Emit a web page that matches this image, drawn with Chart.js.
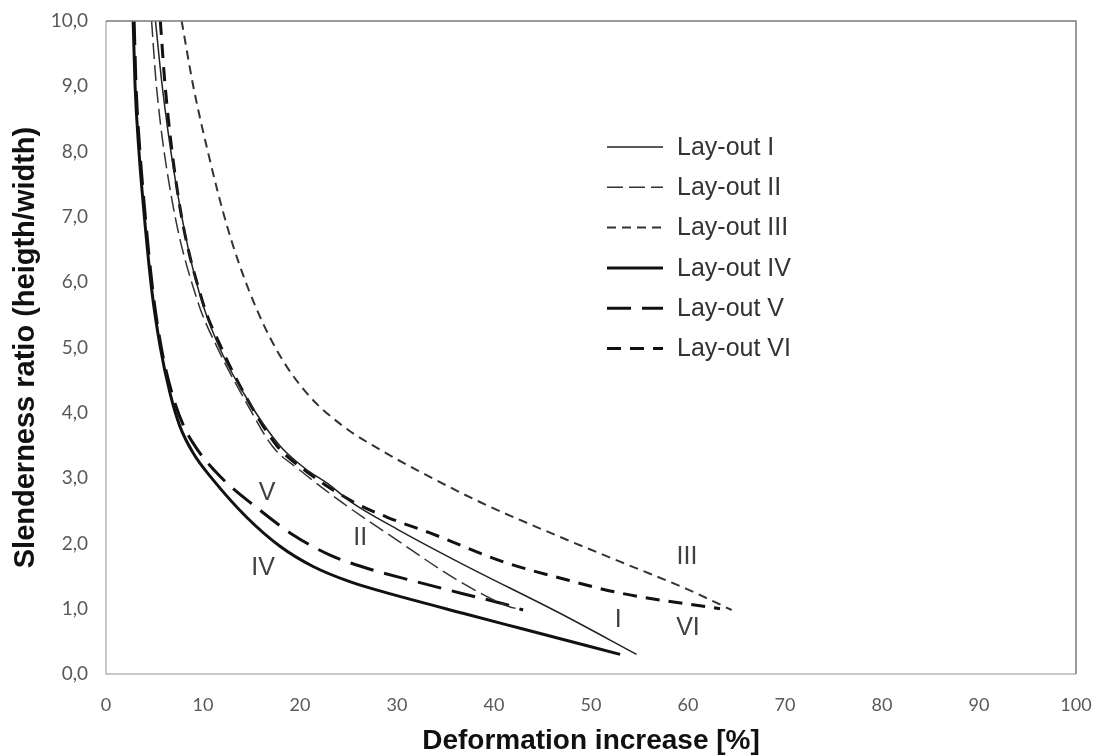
<!DOCTYPE html>
<html>
<head>
<meta charset="utf-8">
<script src="https://cdn.jsdelivr.net/npm/chart.js@4.4.1/dist/chart.umd.min.js"></script>
<style>
  html, body { margin: 0; padding: 0; background: #fff; }
  #wrap { width: 1097px; height: 755px; }
</style>
</head>
<body>
<div id="wrap"><canvas id="slender"></canvas></div>
<script>
// values: deformation increase [%] (x) vs slenderness ratio (y)
const layoutI_x   = [5.1, 5.8, 7.0, 8.5, 10.0, 12.0, 14.6, 17.9, 20.5, 23.1, 25.2, 30.0, 36.8, 46.8, 54.7];
const layoutI_y   = [10.0, 9.0, 7.7, 6.5, 5.65, 4.9, 4.2, 3.5, 3.15, 2.89, 2.64, 2.22, 1.68, 0.93, 0.30];

const layoutII_x  = [4.7, 5.2, 6.8, 9.4, 11.6, 14.3, 17.2, 20.0, 24.4, 30.0, 36.2, 41.6, 42.4];
const layoutII_y  = [10.0, 9.0, 7.26, 5.73, 4.96, 4.2, 3.48, 3.12, 2.62, 2.05, 1.44, 1.03, 1.0];

const layoutIII_x = [7.8, 9.0, 10.5, 12.5, 14.8, 17.6, 20.7, 24.4, 28.2, 32.1, 38.6, 46.8, 53.0, 59.9, 64.5];
const layoutIII_y = [10.0, 9.0, 8.0, 6.85, 5.85, 4.96, 4.3, 3.8, 3.44, 3.12, 2.63, 2.1, 1.72, 1.3, 0.98];

const layoutIV_x  = [2.8, 3.0, 3.4, 3.8, 4.7, 5.6, 6.6, 7.6, 9.0, 11.0, 14.5, 17.9, 21.3, 25.2, 30.0, 36.8, 42.7, 53.0];
const layoutIV_y  = [10.0, 9.0, 8.0, 7.26, 5.9, 5.0, 4.3, 3.8, 3.38, 2.98, 2.40, 1.96, 1.65, 1.41, 1.20, 0.93, 0.70, 0.30];

const layoutV_x   = [2.9, 3.1, 3.5, 3.9, 4.8, 5.7, 6.8, 8.0, 9.5, 11.8, 15.6, 19.3, 23.1, 26.9, 31.3, 36.8, 41.3, 43.0];
const layoutV_y   = [10.0, 9.0, 8.0, 7.26, 5.9, 5.0, 4.3, 3.8, 3.42, 3.02, 2.54, 2.13, 1.82, 1.62, 1.44, 1.23, 1.06, 0.98];

const layoutVI_x  = [5.6, 6.1, 7.5, 9.9, 12.0, 14.6, 17.6, 20.5, 25.2, 29.0, 33.4, 40.9, 46.8, 53.0, 63.3];
const layoutVI_y  = [10.0, 9.0, 7.26, 5.73, 4.96, 4.2, 3.5, 3.12, 2.66, 2.4, 2.16, 1.72, 1.47, 1.24, 1.0];

const seriesNames = ['Lay-out I', 'Lay-out II', 'Lay-out III', 'Lay-out IV', 'Lay-out V', 'Lay-out VI'];
const xTicks = [0, 10, 20, 30, 40, 50, 60, 70, 80, 90, 100];

// roman labels placed next to the curves (data coordinates)
const curveLabels = ['V', 'II', 'IV', 'III', 'I', 'VI'];
const curveLabelX = [16.6, 26.2, 16.2, 59.9, 52.8, 60.0];
const curveLabelY = [2.77, 2.08, 1.62, 1.79, 0.83, 0.70];

function pts(xs, ys) {
  return xs.map((x, i) => ({ x: x, y: ys[i] }));
}

const styles = [
  { width: 1.5, dash: [],       color: '#222' },
  { width: 1.5, dash: [16, 6],  color: '#333' },
  { width: 2,   dash: [9, 6],   color: '#333' },
  { width: 3,   dash: [],       color: '#111' },
  { width: 3,   dash: [24, 11], color: '#111' },
  { width: 3,   dash: [14, 9],  color: '#111' }
];

const allX = [layoutI_x, layoutII_x, layoutIII_x, layoutIV_x, layoutV_x, layoutVI_x];
const allY = [layoutI_y, layoutII_y, layoutIII_y, layoutIV_y, layoutV_y, layoutVI_y];

const datasets = seriesNames.map((name, i) => ({
  label: name,
  data: pts(allX[i], allY[i]),
  showLine: true,
  borderColor: styles[i].color,
  borderWidth: styles[i].width,
  borderDash: styles[i].dash,
  pointRadius: 0,
  cubicInterpolationMode: 'monotone',
  fill: false
}));

function noOverflow(s) {
  s.paddingLeft = 0;
  s.paddingRight = 0;
  s.paddingTop = 0;
  s.paddingBottom = 0;
}

// plot frame, legend and the roman curve labels
const extras = {
  id: 'extras',
  afterDraw(chart) {
    const ctx = chart.ctx;
    const a = chart.chartArea;
    const xs = chart.scales.x, ys = chart.scales.y;
    ctx.save();
    ctx.setLineDash([]);
    ctx.lineWidth = 1.5;
    ctx.strokeStyle = '#b5b5b5';
    ctx.beginPath();
    ctx.moveTo(a.left, a.top);
    ctx.lineTo(a.left, a.bottom);
    ctx.lineTo(a.right, a.bottom);
    ctx.stroke();
    ctx.strokeStyle = '#7a7a7a';
    ctx.beginPath();
    ctx.moveTo(a.left, a.top);
    ctx.lineTo(a.right, a.top);
    ctx.lineTo(a.right, a.bottom);
    ctx.stroke();

    // legend
    const lx = a.left + 501, ly = a.top + 126, step = 40.3;
    ctx.font = '25px "Liberation Sans", Arial, sans-serif';
    ctx.textBaseline = 'middle';
    ctx.textAlign = 'left';
    seriesNames.forEach((name, i) => {
      const y = ly + i * step;
      ctx.lineWidth = styles[i].width;
      ctx.strokeStyle = styles[i].color;
      ctx.setLineDash(styles[i].dash);
      ctx.beginPath();
      ctx.moveTo(lx, y);
      ctx.lineTo(lx + 56, y);
      ctx.stroke();
      ctx.setLineDash([]);
      ctx.fillStyle = '#333';
      ctx.fillText(name, lx + 70, y + 1);
    });

    // curve labels
    ctx.font = '25px "Liberation Sans", Arial, sans-serif';
    ctx.textAlign = 'center';
    ctx.fillStyle = '#404040';
    curveLabels.forEach((t, i) => {
      ctx.fillText(t, xs.getPixelForValue(curveLabelX[i]), ys.getPixelForValue(curveLabelY[i]));
    });
    ctx.restore();
  }
};

new Chart(document.getElementById('slender'), {
  type: 'scatter',
  data: { datasets: datasets },
  options: {
    responsive: true,
    maintainAspectRatio: false,
    animation: false,
    layout: { padding: { top: 21, right: 21, bottom: 0, left: 0 } },
    plugins: {
      legend: { display: false },
      tooltip: { enabled: false }
    },
    scales: {
      x: {
        type: 'linear',
        min: 0,
        max: 100,
        afterBuildTicks: s => { s.ticks = xTicks.map(v => ({ value: v })); },
        afterFit: s => { s.height = 81; noOverflow(s); },
        grid: { display: false, drawTicks: false },
        border: { display: false },
        ticks: {
          padding: 20,
          color: '#595959',
          font: { family: 'Lato', size: 18 },
          maxRotation: 0
        },
        title: {
          display: true,
          text: 'Deformation increase [%]',
          color: '#111',
          font: { family: '"Liberation Sans", Arial, sans-serif', size: 28, weight: 'bold', lineHeight: 1 },
          padding: { top: 0, bottom: 0 }
        }
      },
      y: {
        type: 'linear',
        min: 0,
        max: 10,
        afterFit: s => { s.width = 106; noOverflow(s); },
        grid: { display: false, drawTicks: false },
        border: { display: false },
        ticks: {
          stepSize: 1,
          padding: 18,
          color: '#595959',
          font: { family: 'Lato', size: 19 },
          callback: v => v.toFixed(1).replace('.', ',')
        },
        title: {
          display: true,
          text: 'Slenderness ratio (heigth/width)',
          color: '#111',
          font: { family: '"Liberation Sans", Arial, sans-serif', size: 29, weight: 'bold', lineHeight: 1 },
          padding: { top: 11, bottom: 0 }
        }
      }
    }
  },
  plugins: [extras]
});
</script>
</body>
</html>
